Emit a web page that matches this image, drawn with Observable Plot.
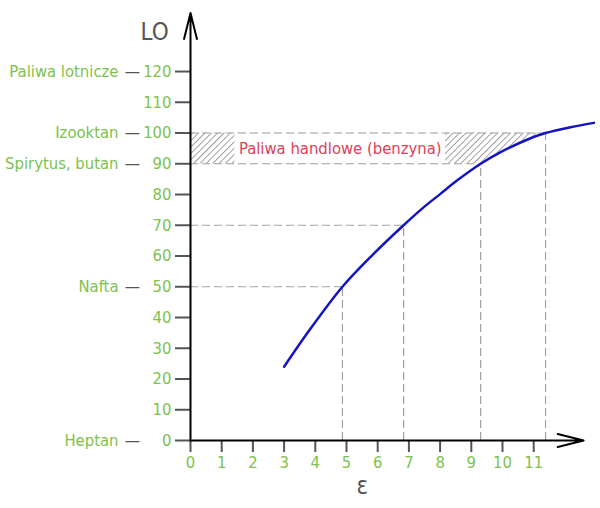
<!DOCTYPE html>
<html>
<head>
<meta charset="utf-8">
<script src="https://cdn.jsdelivr.net/npm/d3@7"></script>
<script src="https://cdn.jsdelivr.net/npm/@observablehq/plot@0.6"></script>
<style>
  html, body { margin: 0; padding: 0; background: #fff; }
</style>
</head>
<body>
<div id="chart"></div>
<script>
// ---- data ----
const curveX = [3, 3.85, 4.87, 5.8, 6.83, 7.48, 8.01, 8.55, 9.3, 9.94, 10.9, 11.38, 12.18, 12.93];
const curveY = [24, 36.4, 50, 60, 70, 75.9, 80.2, 84.6, 90, 93.8, 98.3, 100, 101.9, 103.3];
const keyX = [4.87, 6.83, 9.3, 11.38];
const keyY = [50, 70, 90, 100];
const catNames = ["Paliwa lotnicze", "Izooktan", "Spirytus, butan", "Nafta", "Heptan"];
const catValues = [120, 100, 90, 50, 0];
const yTicks = [0, 10, 20, 30, 40, 50, 60, 70, 80, 90, 100, 110, 120];
const xTicks = [0, 1, 2, 3, 4, 5, 6, 7, 8, 9, 10, 11];
const bandLabel = "Paliwa handlowe (benzyna)";
const bandLow = 90, bandHigh = 100;
const bandLabelX = 4.8;
const yLabel = "LO";
const xLabel = "ε";
const xAxisEnd = 12.6, yAxisEnd = 139;
const xDomain = [0, 13];

// ---- layout ----
const W = 600, H = 508, ML = 190, MR = 4.4, MT = 12.6, MB = 68;
const labelSize = 16.5;
const fontName = "DejaVu Sans Condensed";
const font = `'${fontName}', 'Liberation Sans', sans-serif`;

// ---- derived tables ----
const curve = curveX.map((x, i) => ({x, y: curveY[i]}));
const keys = keyX.map((x, i) => ({x, y: keyY[i]}));
const cats = catNames.map((name, i) => ({name, value: catValues[i]}));
const band = curve.filter(d => d.y >= bandLow && d.y <= bandHigh);

// white box behind the band label: width measured from the text itself
const ctx = document.createElement("canvas").getContext("2d");
ctx.font = `${labelSize}px '${fontName}'`;
const textW = ctx.measureText(bandLabel).width;
const pxPerUnit = (W - ML - MR) / (xDomain[1] - xDomain[0]);
const halfBox = (textW / 2 + 4) / pxPerUnit;
const box = [{label: bandLabel, x1: bandLabelX - halfBox, x2: bandLabelX + halfBox}];

const green = "#7cc24e";
const gray = "#555";

const chart = Plot.plot({
  width: W,
  height: H,
  marginLeft: ML,
  marginRight: MR,
  marginTop: MT,
  marginBottom: MB,
  style: {fontFamily: font, background: "#fff"},
  x: {domain: xDomain},
  y: {domain: [0, yAxisEnd]},
  marks: [
    // hatched band
    Plot.areaX(band, {y: "y", x1: 0, x2: "x", fill: "url(#hatch)", curve: "catmull-rom"}),
    Plot.rect(box, {x1: "x1", x2: "x2", y1: bandLow, y2: bandHigh, fill: "#fff"}),
    // dashed guides
    Plot.ruleY(keys, {y: "y", x1: 0, x2: "x", stroke: "#a0a0a0", strokeWidth: 1.2, strokeDasharray: "8,4"}),
    Plot.ruleX(keys, {x: "x", y1: 0, y2: "y", stroke: "#a0a0a0", strokeWidth: 1.2, strokeDasharray: "8,4"}),
    // band label
    Plot.text(box, {x: bandLabelX, y: (bandLow + bandHigh) / 2, text: "label", fill: "#e0405a", fontSize: labelSize}),
    // curve
    Plot.line(curve, {x: "x", y: "y", stroke: "#1414c0", strokeWidth: 2.5, curve: "catmull-rom"}),
    // axes
    Plot.axisY({ticks: yTicks, tickSize: 15, tickPadding: 4, stroke: gray, strokeWidth: 2, fill: green, fontSize: labelSize, label: null}),
    Plot.axisX({ticks: xTicks, tickSize: 12, tickPadding: 4, stroke: gray, strokeWidth: 2, fill: green, fontSize: labelSize, label: null}),
    Plot.arrow([0], {x1: 0, y1: 0, x2: 0, y2: yAxisEnd, stroke: "#000", strokeWidth: 2, headLength: 20, headAngle: 28}),
    Plot.arrow([0], {x1: 0, y1: 0, x2: xAxisEnd, y2: 0, stroke: "#000", strokeWidth: 2, headLength: 20, headAngle: 28}),
    // category labels
    Plot.text(cats, {x: 0, y: "value", text: "name", dx: -72, textAnchor: "end", fill: green, fontSize: labelSize}),
    Plot.text(cats, {x: 0, y: "value", text: () => "—", dx: -58, fill: gray, fontSize: 17}),
    // axis titles
    Plot.text([yLabel], {frameAnchor: "top-left", text: d => d, dx: -50, dy: 10, fill: "#555", fontSize: 24}),
    Plot.text([xLabel], {frameAnchor: "bottom", text: d => d, dx: -31, dy: 53, fill: "#555", fontSize: 24})
  ]
});

document.getElementById("chart").appendChild(chart);

// hatch pattern
const svg = d3.select(chart);
const defs = svg.insert("defs", ":first-child");
const pat = defs.append("pattern")
  .attr("id", "hatch")
  .attr("patternUnits", "userSpaceOnUse")
  .attr("width", 4.5).attr("height", 4.5)
  .attr("patternTransform", "rotate(45)");
pat.append("line").attr("x1", 0).attr("y1", 0).attr("x2", 0).attr("y2", 4.5)
  .attr("stroke", "#444").attr("stroke-width", 1);
</script>
</body>
</html>
